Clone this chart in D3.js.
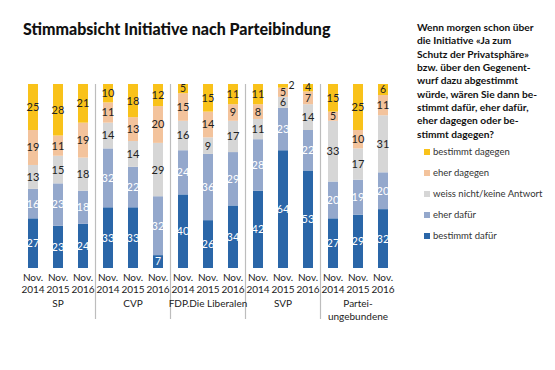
<!DOCTYPE html>
<html><head><meta charset="utf-8">
<script src="https://cdn.jsdelivr.net/npm/d3@7"></script>
<style>
body{margin:0;background:#fff;}
text{font-family:Lato,"Open Sans",sans-serif;}
</style></head>
<body><svg id="c" width="555" height="370"></svg>
<script>
const parties = ["SP","CVP","FDP.Die Liberalen","SVP","Partei-\nungebundene"];
const years = ["Nov.\n2014","Nov.\n2015","Nov.\n2016"];
const seriesNames = ["bestimmt dafür","eher dafür","weiss nicht/keine Antwort","eher dagegen","bestimmt dagegen"];
const colors = ["#2a66a8","#94a8cc","#d6d6d6","#f3c39c","#f9c21a"];
const bestimmtDafuer = [27,23,24, 33,33,7, 40,26,34, 42,64,53, 27,29,32];
const eherDafuer     = [16,23,18, 32,22,32, 24,36,29, 28,23,22, 20,19,20];
const weissNicht     = [13,15,18, 14,14,29, 16,9,17, 11,6,14, 33,17,31];
const eherDagegen    = [19,11,19, 11,13,20, 15,14,9, 8,5,7, 5,10,11];
const bestimmtDagegen= [25,28,21, 10,18,12, 5,15,11, 11,2,4, 15,25,6];
const titleText = "Stimmabsicht Initiative nach Parteibindung";
const questionLines = ["Wenn morgen schon über","die Initiative «Ja zum","Schutz der Privatsphäre»","bzw. über den Gegenent-","wurf dazu abgestimmt","würde, wären Sie dann be-","stimmt dafür, eher dafür,","eher dagegen oder be-","stimmt dagegen?"];

const seriesVals = [bestimmtDafuer,eherDafuer,weissNicht,eherDagegen,bestimmtDagegen];
const keys = seriesNames;
const rows = [];
parties.forEach((p,pi)=>years.forEach((y,yi)=>{
  const i = pi*3+yi;
  const r = {id:i, party:p, year:y};
  keys.forEach((k,ki)=>r[k]=seriesVals[ki][i]);
  rows.push(r);
}));

const svg = d3.select("#c");
const x = d3.scaleBand().domain(rows.map(d=>d.id)).range([20.5,395.5]).paddingInner(0.6).paddingOuter(0.3);
const y = d3.scaleLinear().domain([0,100]).range([268,84]);
const stack = d3.stack().keys(keys)(rows);

svg.append("text").attr("x",23).attr("y",35).attr("font-size",16).attr("font-weight",900)
  .attr("fill","#111").text(titleText);

// separators
for(let g=1; g<parties.length; g++){
  const sx = (x(g*3-1)+x.bandwidth() + x(g*3))/2;
  svg.append("line").attr("x1",sx).attr("x2",sx).attr("y1",84).attr("y2",319)
    .attr("stroke","#bdbdbd").attr("stroke-width",1.2);
}

const layers = svg.selectAll("g.layer").data(stack).join("g").attr("class","layer")
  .attr("fill",(d,i)=>colors[i]);
layers.selectAll("rect").data(d=>d).join("rect")
  .attr("x",d=>x(d.data.id)).attr("width",x.bandwidth())
  .attr("y",d=>y(d[1])).attr("height",d=>y(d[0])-y(d[1]));

// value labels
stack.forEach((layer,li)=>{
  layer.forEach(d=>{
    const v = d[1]-d[0];
    const h = y(d[0])-y(d[1]);
    const cx = x(d.data.id)+x.bandwidth()/2;
    const t = svg.append("text").attr("font-size",h<14?10.5:11).attr("fill",li<2?"#fff":"#222");
    if(h<6){
      t.attr("x",x(d.data.id)+x.bandwidth()+0.5).attr("y",y(d[1])+5).attr("text-anchor","start").text(v);
    } else {
      t.attr("x",cx).attr("y",(y(d[0])+y(d[1]))/2).attr("dy","0.36em").attr("text-anchor","middle").text(v);
    }
  });
});

// x tick labels
rows.forEach(d=>{
  const lines = d.year.split("\n");
  const cx = x(d.id)+x.bandwidth()/2;
  lines.forEach((l,i)=>svg.append("text").attr("x",cx).attr("y",281+i*11.5).attr("text-anchor","middle")
    .attr("font-size",10).attr("fill","#222").text(l));
});
parties.forEach((p,pi)=>{
  const cx = x(pi*3+1)+x.bandwidth()/2;
  p.split("\n").forEach((l,i)=>svg.append("text").attr("x",cx).attr("y",307+i*13).attr("text-anchor","middle")
    .attr("font-size",10).attr("fill","#222").text(l));
});

// question text
questionLines.forEach((l,i)=>svg.append("text").attr("x",417).attr("y",31+i*13.35)
  .attr("font-size",10.2).attr("font-weight",700).attr("fill","#111").text(l));

// legend
const leg = seriesNames.map((n,i)=>({n,c:colors[i]})).reverse();
leg.forEach((d,i)=>{
  const cy = 152+i*21;
  svg.append("rect").attr("x",424).attr("y",cy-3).attr("width",6).attr("height",6).attr("fill",d.c);
  svg.append("text").attr("x",433).attr("y",cy).attr("dy","0.35em").attr("font-size",9.5).attr("fill","#333").text(d.n);
});
</script></body></html>
